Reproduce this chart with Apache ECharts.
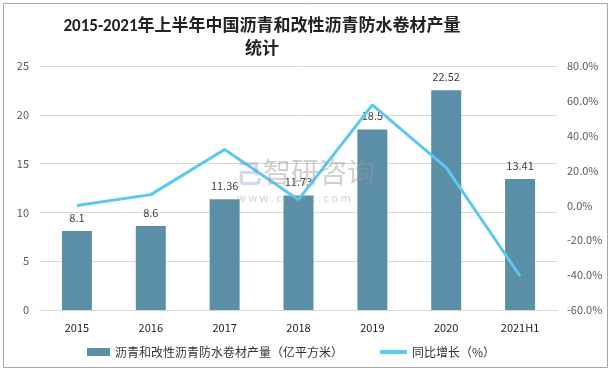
<!DOCTYPE html>
<html><head><meta charset="utf-8">
<script src="https://cdn.jsdelivr.net/npm/echarts@6/dist/echarts.min.js"></script>
<style>html,body{margin:0;padding:0;background:#fff}#c{width:612px;height:372px}</style>
</head><body><div id="c"></div>
<script>
const categories = ['2015','2016','2017','2018','2019','2020','2021H1'];
const output = [8.1, 8.6, 11.36, 11.73, 18.5, 22.52, 13.41];
const growth = [0, 6.2, 32.1, 3.3, 57.7, 21.7, -40.5];
const leftTicks = [0, 25, 5];
const rightTicks = [-60, 80, 20];
const barName = '沥青和改性沥青防水卷材产量（亿平方米）';
const lineName = '同比增长（%）';

const chart = echarts.init(document.getElementById('c'), null, {renderer:'canvas'});
const font = '"Microsoft YaHei","Noto Sans CJK SC",sans-serif';
chart.setOption({
  animation:false,
  textStyle:{fontFamily:font},
  title:{text:'2015-2021年上半年中国沥青和改性沥青防水卷材产量\n统计', left:262, textAlign:'center', top:15, padding:0,
    textStyle:{fontSize:17, fontWeight:'bold', color:'#222', lineHeight:23, fontFamily:'Calibri,"Liberation Sans","Noto Sans CJK SC",sans-serif'}},
  legend:[{data:[barName], left:87, top:346, padding:0, itemWidth:23, itemHeight:8, icon:'rect', itemGap:10,
      textStyle:{fontSize:12, color:'#333'}},
    {data:[lineName], left:380, top:346, padding:0, itemWidth:27, itemHeight:4, icon:'roundRect',
      textStyle:{fontSize:12, color:'#333'}}],
  grid:{left:40, right:55, top:66, bottom:62},
  xAxis:{type:'category', data:categories,
    axisLine:{lineStyle:{color:'#d9d9d9'}}, axisTick:{show:false},
    axisLabel:{color:'#222', fontSize:11, margin:12}},
  yAxis:[{type:'value', min:leftTicks[0], max:leftTicks[1], interval:leftTicks[2],
      axisLine:{show:false}, axisTick:{show:false},
      axisLabel:{color:'#595959', fontSize:11, margin:11},
      splitLine:{lineStyle:{color:'#d9d9d9'}}},
    {type:'value', min:rightTicks[0], max:rightTicks[1], interval:rightTicks[2],
      axisLine:{show:false}, axisTick:{show:false}, splitLine:{show:false},
      axisLabel:{color:'#595959', fontSize:11, margin:10, formatter:v=>v.toFixed(1)+'%'}}],
  graphic:[
    {type:'rect', shape:{x:3.5,y:3.5,width:604,height:364}, style:{fill:'none', stroke:'#a6a6a6', lineWidth:1}, z:100},
    {type:'text', left:263, top:158, style:{text:'智研咨询', fontSize:28, fill:'rgba(150,150,150,0.45)', fontFamily:font}, z:100},
    {type:'text', left:236, top:160, style:{text:'己', fontSize:26, fontWeight:'bold', fill:'rgba(120,150,200,0.35)', fontFamily:font}, z:100},
    {type:'text', left:237, top:192, style:{text:'w w w . c h y x x . c o m', fontSize:11, fill:'rgba(150,150,150,0.45)', fontFamily:font}, z:100}
  ],
  series:[
    {name:barName, type:'bar', data:output, barWidth:30, yAxisIndex:0,
      itemStyle:{color:'#5B8FA8'},
      label:{show:true, position:'top', distance:8, color:'#404040', fontSize:11}},
    {name:lineName, type:'line', data:growth, yAxisIndex:1, showSymbol:false, symbol:'none',
      lineStyle:{color:'#5BC8F2', width:3}, itemStyle:{color:'#5BC8F2'}, z:5}
  ]
});
</script></body></html>
